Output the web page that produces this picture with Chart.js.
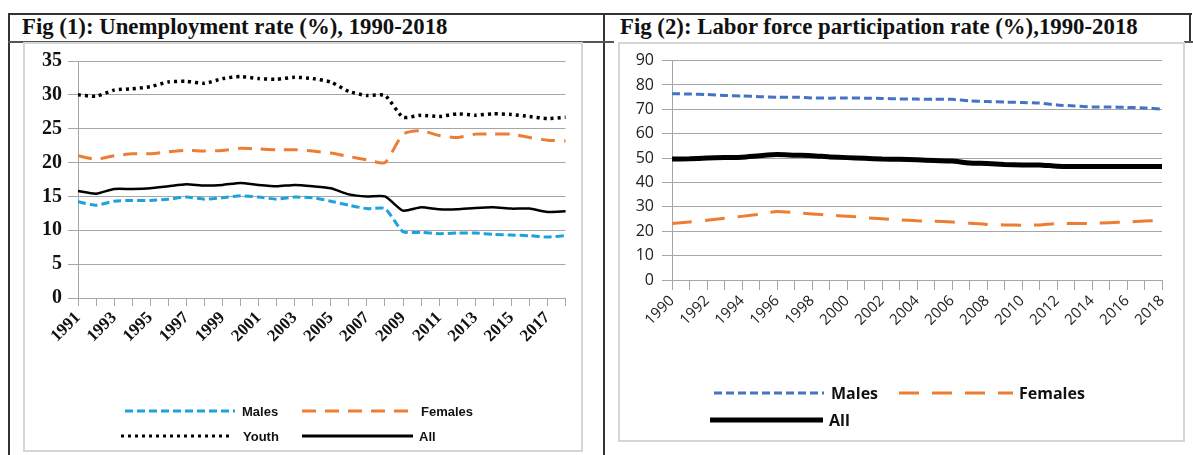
<!DOCTYPE html>
<html>
<head>
<meta charset="utf-8">
<script src="https://cdn.jsdelivr.net/npm/chart.js@4.4.1/dist/chart.umd.min.js"></script>
<style>
  body { margin: 0; background: #fff; }
  #page { position: relative; width: 1193px; height: 455px; overflow: hidden; background: #fff; }
  .rule { position: absolute; background: #333; }
  .box { position: absolute; border: 2px solid #d6d6d6; box-sizing: border-box; }
  .title { position: absolute; top: 14px; height: 28px; line-height: 28px; font: bold 22.8px "Liberation Serif", "Times New Roman", serif; color: #111; white-space: nowrap; }
  canvas { position: absolute; }
</style>
</head>
<body>
<div id="page">
  <div class="rule" style="left:8px;top:13px;width:1184px;height:2px"></div>
  <div class="rule" style="left:8px;top:13px;width:2px;height:442px"></div>
  <div class="rule" style="left:603px;top:13px;width:2px;height:442px"></div>
  <div class="rule" style="left:1189px;top:13px;width:2px;height:30px"></div>
  <div class="rule" style="left:8px;top:41px;width:606px;height:2px;background:#555"></div>
  <div class="rule" style="left:1184px;top:41px;width:9px;height:2px;background:#555"></div>

  <div class="title" style="left:22px">Fig (1): Unemployment rate (%), 1990-2018</div>
  <div class="title" style="left:620px">Fig (2): Labor force participation rate (%),1990-2018</div>

  <div class="box" style="left:23px;top:42px;width:560px;height:410px"></div>
  <div class="box" style="left:618px;top:42px;width:567px;height:400px"></div>

  <canvas id="unempChart" width="558" height="408" style="left:24px;top:43px"></canvas>
  <canvas id="lfprChart" width="565" height="398" style="left:619px;top:43px"></canvas>
</div>

<script>
// ============================================================
// DATA - Fig (1) unemployment rate (%)
// ============================================================
const unempYears = ["1991","1992","1993","1994","1995","1996","1997","1998","1999","2000",
  "2001","2002","2003","2004","2005","2006","2007","2008","2009","2010",
  "2011","2012","2013","2014","2015","2016","2017","2018"];
const unempTickLabels = ["1991","1993","1995","1997","1999","2001","2003","2005","2007","2009","2011","2013","2015","2017"];

const unempMales   = [14.2,13.7,14.3,14.4,14.4,14.6,14.9,14.6,14.8,15.1,14.9,14.6,14.9,14.8,14.3,13.7,13.2,13.2,9.8,9.7,9.5,9.6,9.6,9.4,9.3,9.2,9.0,9.2];
const unempFemales = [21.0,20.5,21.0,21.3,21.3,21.6,21.8,21.7,21.8,22.1,22.0,21.9,21.9,21.7,21.4,20.9,20.4,20.0,24.2,24.7,24.0,23.7,24.2,24.2,24.2,23.7,23.3,23.2];
const unempYouth   = [30.0,29.8,30.7,30.9,31.2,31.9,32.0,31.7,32.4,32.7,32.4,32.3,32.6,32.4,31.9,30.5,29.9,29.9,26.7,27.0,26.8,27.2,27.0,27.2,27.1,26.8,26.5,26.7];
const unempAll     = [15.8,15.4,16.1,16.1,16.2,16.5,16.8,16.6,16.7,17.0,16.7,16.5,16.7,16.5,16.2,15.3,15.0,15.0,12.9,13.4,13.1,13.1,13.3,13.4,13.2,13.2,12.7,12.8];

// ============================================================
// DATA - Fig (2) labor force participation rate (%)
// ============================================================
const lfprYears = ["1990","1991","1992","1993","1994","1995","1996","1997","1998","1999",
  "2000","2001","2002","2003","2004","2005","2006","2007","2008","2009",
  "2010","2011","2012","2013","2014","2015","2016","2017","2018"];
const lfprTickLabels = ["1990","1992","1994","1996","1998","2000","2002","2004","2006","2008","2010","2012","2014","2016","2018"];

const lfprMales   = [76.4,76.3,76.1,75.7,75.5,75.2,75.0,75.0,74.7,74.6,74.7,74.6,74.5,74.3,74.2,74.1,74.1,73.5,73.2,73.0,72.8,72.6,71.8,71.4,71.0,71.0,70.8,70.6,70.1];
const lfprFemales = [23.2,23.8,24.5,25.3,26.1,27.0,28.1,27.6,27.1,26.6,26.2,25.6,25.1,24.7,24.3,24.1,23.8,23.3,22.8,22.6,22.5,22.6,23.2,23.2,23.2,23.5,23.8,24.2,24.5];
const lfprAll     = [49.6,49.7,50.0,50.2,50.4,51.0,51.5,51.2,51.0,50.5,50.2,49.9,49.6,49.5,49.3,49.0,48.8,48.0,47.8,47.4,47.2,47.2,46.7,46.6,46.6,46.6,46.6,46.6,46.6];

// ============================================================
// LEGEND (line samples in two columns, like the Excel original)
// ============================================================
const lineLegend = {
  id: "lineLegend",
  afterDraw(chart, args, opts) {
    const ctx = chart.ctx;
    ctx.save();
    opts.items.forEach((it, i) => {
      const ds = chart.data.datasets[i];
      ctx.strokeStyle = ds.borderColor;
      ctx.lineWidth = it.width || ds.borderWidth;
      ctx.setLineDash(ds.borderDash || []);
      ctx.beginPath();
      ctx.moveTo(it.x0, it.y);
      ctx.lineTo(it.x1, it.y);
      ctx.stroke();
      ctx.setLineDash([]);
      ctx.fillStyle = "#111";
      ctx.font = opts.font;
      ctx.textBaseline = "middle";
      ctx.fillText(ds.label, it.tx, it.y + 1);
    });
    ctx.restore();
  }
};

function line(label, data, color, width, dash) {
  return {
    label: label,
    data: data,
    borderColor: color,
    backgroundColor: color,
    borderWidth: width,
    borderDash: dash,
    borderCapStyle: "butt",
    pointRadius: 0,
    tension: 0.2,
    fill: false
  };
}

function tickCallback(years, shown) {
  return function (value, index) {
    const y = years[index];
    return shown.includes(y) ? y : "";
  };
}

// ============================================================
// FIG 1
// ============================================================
new Chart(document.getElementById("unempChart"), {
  type: "line",
  data: {
    labels: unempYears,
    datasets: [
      line("Males", unempMales, "#1fa2dc", 3, [8, 4]),
      line("Females", unempFemales, "#ed7d31", 3, [14, 9]),
      line("Youth", unempYouth, "#000", 3.5, [3, 4]),
      line("All", unempAll, "#000", 2.5, [])
    ]
  },
  options: {
    responsive: false,
    animation: false,
    layout: { padding: { left: 0, right: 13, top: 12, bottom: 93 } },
    plugins: {
      legend: { display: false },
      tooltip: { enabled: false },
      lineLegend: {
        font: "bold 13px 'Liberation Sans', Arial, sans-serif",
        items: [
          { x0: 101, x1: 211, tx: 218, y: 368 },
          { x0: 278, x1: 391, tx: 397, y: 368 },
          { x0: 97, x1: 208, tx: 219, y: 393, width: 3 },
          { x0: 278, x1: 389, tx: 395, y: 393, width: 3 }
        ]
      }
    },
    scales: {
      x: {
        afterFit(scale) { scale.height = 60; },
        grid: { drawOnChartArea: false, drawTicks: true, tickLength: 8, color: "#a6a6a6" },
        border: { color: "#a6a6a6" },
        ticks: {
          autoSkip: false, maxRotation: 45, minRotation: 45, padding: 2,
          color: "#111",
          font: { family: "'Liberation Serif', 'Times New Roman', serif", size: 17, weight: "bold" },
          callback: tickCallback(unempYears, unempTickLabels)
        }
      },
      y: {
        min: 0, max: 35,
        afterFit(scale) { scale.width = 54; },
        grid: { color: "#a6a6a6", tickLength: 10 },
        border: { color: "#a6a6a6" },
        ticks: {
          stepSize: 5, padding: 6, color: "#111",
          font: { family: "'Liberation Serif', 'Times New Roman', serif", size: 20, weight: "bold" }
        }
      }
    }
  },
  plugins: [lineLegend]
});

// ============================================================
// FIG 2
// ============================================================
new Chart(document.getElementById("lfprChart"), {
  type: "line",
  data: {
    labels: lfprYears,
    datasets: [
      line("Males", lfprMales, "#4472c4", 3, [8, 4]),
      line("Females", lfprFemales, "#ed7d31", 3, [20, 13]),
      line("All", lfprAll, "#000", 5, [])
    ]
  },
  options: {
    responsive: false,
    animation: false,
    layout: { padding: { left: 0, right: 22, top: 10, bottom: 96 } },
    plugins: {
      legend: { display: false },
      tooltip: { enabled: false },
      lineLegend: {
        font: "bold 16px 'Open Sans', 'Liberation Sans', sans-serif",
        items: [
          { x0: 95, x1: 205, tx: 212, y: 350 },
          { x0: 280, x1: 394, tx: 400, y: 350 },
          { x0: 91, x1: 204, tx: 210, y: 377 }
        ]
      }
    },
    scales: {
      x: {
        afterFit(scale) { scale.height = 65; },
        grid: { drawOnChartArea: false, drawTicks: true, tickLength: 10, color: "#a6a6a6" },
        border: { color: "#a6a6a6" },
        ticks: {
          autoSkip: false, maxRotation: 45, minRotation: 45, padding: 2,
          color: "#222",
          font: { family: "'Open Sans', sans-serif", size: 15 },
          callback: tickCallback(lfprYears, lfprTickLabels)
        }
      },
      y: {
        min: 0, max: 90,
        afterFit(scale) { scale.width = 53; },
        grid: { color: "#a6a6a6", tickLength: 10 },
        border: { color: "#a6a6a6" },
        ticks: {
          stepSize: 10, padding: 8, color: "#222",
          font: { family: "'Open Sans', sans-serif", size: 16 }
        }
      }
    }
  },
  plugins: [lineLegend]
});
</script>
</body>
</html>
